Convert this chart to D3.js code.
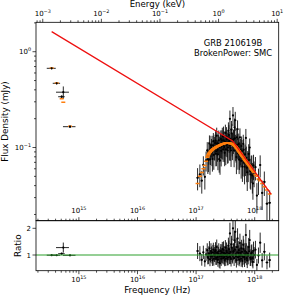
<!DOCTYPE html>
<html>
<head>
<meta charset="utf-8">
<script src="https://cdn.jsdelivr.net/npm/d3@7"></script>
<style>
body { margin: 0; background: #fff; }
text { font-family: "DejaVu Sans", sans-serif; fill: #000; }
</style>
</head>
<body>
<div id="display"></div>
<script>
var width = 285,
    height = 296;

// optical / UV photometry (Hz, mJy)
var optNu = [3.43e14, 4.18e14, 5.08e14, 5.42e14, 7.05e14];
var optNuErr = [0.6e14, 0.6e14, 0.65e14, 1.35e14, 1.7e14];
var optFlux = [0.671, 0.468, 0.339, 0.378, 0.165];
var optFluxErr = [0.015, 0.012, 0.010, 0.056, 0.005];
var optModel = [0.676, 0.472, 0.323, 0.296, 0.167];

// X-ray bins (units of 1e17 Hz), model (mJy) and data/model ratio
var xrayNu = [1.06, 1.16, 1.25, 1.33, 1.41, 1.48, 1.55, 1.585, 1.62, 1.655,
    1.69, 1.725, 1.76, 1.795, 1.83, 1.865, 1.90, 1.935, 1.97, 2.005,
    2.04, 2.075, 2.11, 2.145, 2.18, 2.215, 2.25, 2.285, 2.32, 2.36,
    2.40, 2.44, 2.48, 2.52, 2.56, 2.60, 2.64, 2.68, 2.72, 2.76,
    2.80, 2.845, 2.89, 2.935, 2.98, 3.025, 3.07, 3.115, 3.16, 3.21,
    3.26, 3.31, 3.36, 3.41, 3.46, 3.51, 3.56, 3.615, 3.67, 3.725,
    3.78, 3.835, 3.89, 3.95, 4.01, 4.07, 4.13, 4.195, 4.26, 4.325,
    4.39, 4.455, 4.52, 4.59, 4.66, 4.73, 4.80, 4.875, 4.95, 5.025,
    5.10, 5.18, 5.26, 5.345, 5.43, 5.515, 5.60, 5.69, 5.78, 5.875,
    5.97, 6.07, 6.17, 6.275, 6.38, 6.49, 6.60, 6.715, 6.83, 6.95,
    7.07, 7.20, 7.33, 7.465, 7.60, 7.75, 7.90, 8.06, 8.22, 8.39,
    8.56, 8.745, 8.93, 9.13, 9.33, 9.55, 9.77, 10.3, 10.9, 11.6,
    12.4, 13.4, 14.6, 16.2, 18.0];
var xrayModel = [0.042, 0.050, 0.055, 0.060, 0.065, 0.072, 0.079, 0.0815, 0.084, 0.086,
    0.088, 0.0895, 0.091, 0.092, 0.093, 0.094, 0.095, 0.096, 0.097, 0.0975,
    0.098, 0.099, 0.0995, 0.100, 0.101, 0.1015, 0.102, 0.1025, 0.103, 0.1035,
    0.104, 0.1045, 0.105, 0.1055, 0.106, 0.1065, 0.107, 0.1075, 0.108, 0.108,
    0.108, 0.1085, 0.109, 0.1095, 0.110, 0.110, 0.110, 0.1105, 0.111, 0.111,
    0.111, 0.111, 0.111, 0.111, 0.111, 0.111, 0.111, 0.111, 0.111, 0.1105,
    0.110, 0.110, 0.110, 0.110, 0.110, 0.1095, 0.109, 0.1085, 0.108, 0.107,
    0.106, 0.1055, 0.105, 0.104, 0.103, 0.102, 0.101, 0.0995, 0.098, 0.097,
    0.096, 0.0945, 0.093, 0.092, 0.091, 0.0895, 0.088, 0.087, 0.086, 0.0845,
    0.083, 0.082, 0.081, 0.080, 0.079, 0.0775, 0.076, 0.075, 0.074, 0.073,
    0.072, 0.071, 0.070, 0.069, 0.068, 0.067, 0.066, 0.065, 0.064, 0.063,
    0.0615, 0.060, 0.059, 0.058, 0.057, 0.056, 0.055, 0.052, 0.050, 0.047,
    0.045, 0.042, 0.039, 0.036, 0.0327];
var xrayRatio = [1.15, 1.05, 0.82, 1.10, 0.76, 1.02, 1.18, 0.92, 0.88, 1.05,
    1.25, 0.84, 0.95, 1.15, 1.08, 0.96, 0.80, 1.10, 1.20, 0.86,
    0.98, 1.02, 1.12, 1.18, 0.85, 0.90, 1.30, 1.08, 0.92, 0.82,
    1.05, 1.14, 0.72, 0.95, 0.69, 1.02, 1.15, 0.86, 0.95, 1.10,
    1.22, 0.98, 0.88, 1.20, 1.08, 0.92, 0.80, 1.04, 1.28, 0.86,
    0.96, 1.16, 1.10, 1.00, 0.84, 0.90, 1.35, 1.22, 1.05, 0.95,
    1.81, 1.12, 0.90, 0.85, 1.40, 1.28, 1.00, 0.98, 2.00, 1.12,
    1.15, 0.88, 1.55, 1.20, 1.87, 1.02, 0.95, 0.80, 1.30, 1.10,
    1.62, 0.92, 1.08, 1.18, 0.82, 0.96, 1.45, 1.08, 1.00, 0.86,
    1.25, 1.12, 0.78, 0.94, 1.38, 1.22, 0.92, 0.84, 1.15, 1.02,
    1.75, 1.10, 0.88, 0.80, 1.05, 0.98, 1.30, 1.14, 1.56, 0.90,
    0.85, 1.04, 1.10, 0.88, 0.74, 1.16, 1.00, 1.20, 0.63, 0.98,
    1.46, 0.80, 1.12, 0.72, 0.81];
var xrayRatioErr = [0.30, 0.28, 0.22, 0.25, 0.20, 0.24, 0.26, 0.27, 0.22, 0.28,
    0.27, 0.26, 0.23, 0.29, 0.24, 0.28, 0.21, 0.28, 0.26, 0.26,
    0.23, 0.28, 0.25, 0.30, 0.22, 0.27, 0.28, 0.29, 0.23, 0.26,
    0.25, 0.30, 0.20, 0.28, 0.20, 0.29, 0.26, 0.27, 0.24, 0.30,
    0.27, 0.29, 0.23, 0.31, 0.25, 0.28, 0.22, 0.30, 0.28, 0.27,
    0.24, 0.31, 0.26, 0.29, 0.23, 0.28, 0.30, 0.32, 0.26, 0.29,
    0.40, 0.31, 0.24, 0.28, 0.32, 0.33, 0.26, 0.30, 0.45, 0.32,
    0.28, 0.29, 0.36, 0.33, 0.42, 0.31, 0.26, 0.27, 0.32, 0.32,
    0.38, 0.30, 0.28, 0.34, 0.24, 0.31, 0.35, 0.33, 0.28, 0.30,
    0.32, 0.34, 0.24, 0.31, 0.34, 0.36, 0.27, 0.29, 0.30, 0.33,
    0.42, 0.34, 0.26, 0.29, 0.30, 0.33, 0.34, 0.35, 0.38, 0.31,
    0.26, 0.33, 0.30, 0.31, 0.24, 0.34, 0.30, 0.33, 0.22, 0.30,
    0.38, 0.27, 0.32, 0.26, 0.28];

// unabsorbed broken power law (Hz, mJy)
var bplNu = [3.43e14, 4.2e17, 1.9e18];
var bplFlux = [1.62, 0.117, 0.0326];

var freqTicks = [1e15, 1e16, 1e17, 1e18];
var energyTicks = [1e-3, 1e-2, 1e-1, 1e0, 1e1];
var fluxTicks = [1e-1, 1e0];
var ratioTicks = [1, 2];
var keV = 2.418e17; // Hz per keV

var L = 36, R = 278.7, T = 22.3, B1 = 220.7, B2 = 270.7;

var svg = d3.select("#display")
    .append("svg")
    .attr("width", width)
    .attr("height", height);

var x = d3.scaleLog().domain([1.854e14, 2.568e18]).range([L, R]);
var xE = d3.scaleLog().domain([1.854e14 / keV, 2.568e18 / keV]).range([L, R]);
var y = d3.scaleLog().domain([0.01722, 2.028]).range([B1, T]);
var yr = d3.scaleLinear().domain([0.412, 2.285]).range([B2, B1]);

function minors(scale) {
    var d = scale.domain(), out = [];
    for (var e = Math.floor(Math.log10(d[0])); e <= Math.ceil(Math.log10(d[1])); e++) {
        for (var k = 2; k < 10; k++) {
            var v = k * Math.pow(10, e);
            if (v >= d[0] && v <= d[1]) out.push(v);
        }
    }
    return out;
}

function expLabel(g, v, px, py, anchor) {
    var e = Math.round(Math.log10(v));
    var t = g.append("text").attr("x", px).attr("y", py)
        .attr("text-anchor", anchor).attr("font-size", 7);
    t.append("tspan").text("10");
    t.append("tspan").attr("dy", -3.1).attr("font-size", 4.9)
        .text(String(e).replace("-", "\u2212"));
}

function tickLines(g, vals, scale, fixed, len, horiz) {
    g.selectAll(null).data(vals).enter().append("line")
        .attr("x1", d => horiz ? scale(d) : fixed)
        .attr("x2", d => horiz ? scale(d) : fixed + len)
        .attr("y1", d => horiz ? fixed : scale(d))
        .attr("y2", d => horiz ? fixed + len : scale(d))
        .attr("stroke", "#000").attr("stroke-width", 0.7);
}

var axes = svg.append("g");

// top axis: energy
tickLines(axes, energyTicks, xE, T, -3.5, true);
tickLines(axes, minors(xE), xE, T, -2, true);
energyTicks.forEach(v => expLabel(axes, v, xE(v), 16.2, "middle"));

// top panel bottom: frequency, ticks and labels inside
tickLines(axes, freqTicks, x, B1, -3.5, true);
tickLines(axes, minors(x), x, B1, -2, true);
freqTicks.forEach(v => expLabel(axes, v, x(v), 213, "middle"));

// ratio panel bottom
tickLines(axes, freqTicks, x, B2, 3.5, true);
tickLines(axes, minors(x), x, B2, 2, true);
freqTicks.forEach(v => expLabel(axes, v, x(v), 282, "middle"));

// left flux axis
tickLines(axes, fluxTicks, y, L, -3.5, false);
tickLines(axes, minors(y), y, L, -2, false);
fluxTicks.forEach(v => expLabel(axes, v, L - 5, y(v) + 2.4, "end"));

// ratio axis
tickLines(axes, ratioTicks, yr, L, -3.5, false);
ratioTicks.forEach(v => axes.append("text").attr("x", L - 5).attr("y", yr(v) + 2.5)
    .attr("text-anchor", "end").attr("font-size", 7).text(v));

// axis titles
svg.append("text").attr("x", (L + R) / 2).attr("y", 6.6).attr("text-anchor", "middle")
    .attr("font-size", 8.6).text("Energy (keV)");
svg.append("text").attr("x", (L + R) / 2).attr("y", 293).attr("text-anchor", "middle")
    .attr("font-size", 8.8).text("Frequency (Hz)");
svg.append("text").attr("transform", "translate(8," + (T + B1) / 2 + ") rotate(-90)")
    .attr("text-anchor", "middle").attr("font-size", 8.8).text("Flux Density (mJy)");
svg.append("text").attr("transform", "translate(21," + (B1 + B2) / 2 + ") rotate(-90)")
    .attr("text-anchor", "middle").attr("font-size", 8.8).text("Ratio");

svg.append("text").attr("x", 233).attr("y", 46).attr("text-anchor", "middle")
    .attr("font-size", 8.4).text("GRB 210619B");
svg.append("text").attr("x", 233).attr("y", 55.5).attr("text-anchor", "middle")
    .attr("font-size", 8.4).text("BrokenPower: SMC");

// clip paths
var defs = svg.append("defs");
defs.append("clipPath").attr("id", "clipTop").append("rect")
    .attr("x", L).attr("y", T).attr("width", R - L).attr("height", B1 - T);
defs.append("clipPath").attr("id", "clipBot").append("rect")
    .attr("x", L).attr("y", B1).attr("width", R - L).attr("height", B2 - B1);

var topG = svg.append("g").attr("clip-path", "url(#clipTop)");
var botG = svg.append("g").attr("clip-path", "url(#clipBot)");

// X-ray bins: each bin reaches half way (in log) to its neighbours
var xray = xrayNu.map(function (n, i) {
    var nu = n * 1e17;
    var prev = i > 0 ? xrayNu[i - 1] * 1e17 : nu * nu / (xrayNu[i + 1] * 1e17);
    var next = i < xrayNu.length - 1 ? xrayNu[i + 1] * 1e17 : nu * nu / prev;
    return {
        nu: nu, lo: Math.sqrt(prev * nu), hi: Math.sqrt(nu * next),
        model: xrayModel[i], ratio: xrayRatio[i], rerr: xrayRatioErr[i],
        flux: xrayRatio[i] * xrayModel[i], ferr: xrayRatioErr[i] * xrayModel[i]
    };
});
var opt = optNu.map(function (nu, i) {
    return {
        nu: nu, lo: nu - optNuErr[i], hi: nu + optNuErr[i],
        model: optModel[i], flux: optFlux[i], ferr: optFluxErr[i],
        ratio: optFlux[i] / optModel[i], rerr: optFluxErr[i] / optModel[i]
    };
});
var all = opt.concat(xray);

function errorbars(g, pts, fy, fyerr, yscale) {
    var sel = g.selectAll(null).data(pts).enter().append("g");
    sel.append("line")
        .attr("x1", d => x(d.nu)).attr("x2", d => x(d.nu))
        .attr("y1", d => yscale(fy(d) - fyerr(d))).attr("y2", d => yscale(fy(d) + fyerr(d)))
        .attr("stroke", "#111").attr("stroke-width", 0.9);
    sel.append("line")
        .attr("x1", d => x(d.lo)).attr("x2", d => x(d.hi))
        .attr("y1", d => yscale(fy(d))).attr("y2", d => yscale(fy(d)))
        .attr("stroke", "#111").attr("stroke-width", 0.9);
}

function dots(g, pts, fy, yscale) {
    g.selectAll(null).data(pts).enter().append("circle")
        .attr("cx", d => x(d.nu)).attr("cy", d => yscale(fy(d)))
        .attr("r", 1.1).attr("fill", "#000");
}

// top panel
errorbars(topG, all, d => d.flux, d => d.ferr, y);
dots(topG, xray, d => d.flux, y);
topG.selectAll(null).data(all).enter().append("line")
    .attr("x1", d => x(d.nu) - 2).attr("x2", d => x(d.nu) + 2)
    .attr("y1", d => y(d.model)).attr("y2", d => y(d.model))
    .attr("stroke", "#ff7f0e").attr("stroke-width", 1.5);
topG.append("path")
    .datum(d3.zip(bplNu, bplFlux))
    .attr("d", d3.line().x(d => x(d[0])).y(d => y(d[1])))
    .attr("fill", "none").attr("stroke", "#ee1111").attr("stroke-width", 1.25);
dots(topG, opt, d => d.flux, y);

// ratio panel
errorbars(botG, all, d => d.ratio, d => d.rerr, yr);
dots(botG, all, d => d.ratio, yr);
botG.append("line").attr("x1", L).attr("x2", R).attr("y1", yr(1)).attr("y2", yr(1))
    .attr("stroke", "#2ca02c").attr("stroke-width", 1.1);

// frames
svg.append("rect").attr("x", L).attr("y", T).attr("width", R - L).attr("height", B1 - T)
    .attr("fill", "none").attr("stroke", "#000").attr("stroke-width", 0.8);
svg.append("rect").attr("x", L).attr("y", B1).attr("width", R - L).attr("height", B2 - B1)
    .attr("fill", "none").attr("stroke", "#000").attr("stroke-width", 0.8);
</script>
</body>
</html>
